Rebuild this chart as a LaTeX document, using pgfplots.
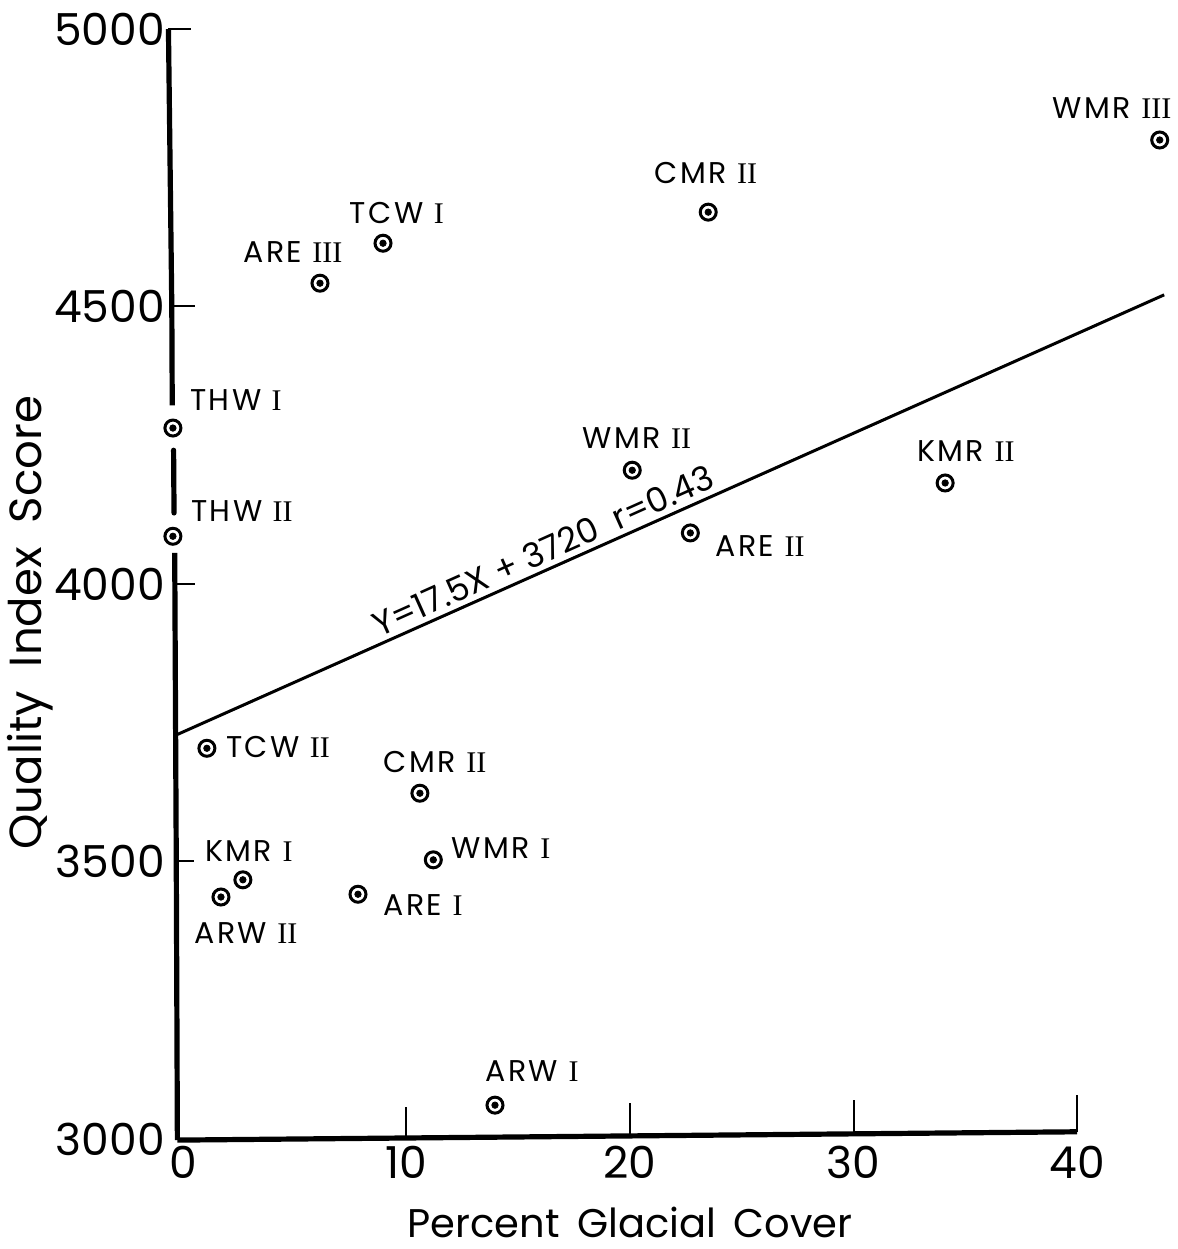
\documentclass[border=0pt]{standalone}
\usepackage{fontspec}
\setmainfont{Poppins}
\newfontfamily\lblfont[LetterSpace=8]{Poppins}
\newfontfamily\rn{Liberation Serif}
\usepackage{pgfplots}
\usepackage{pgfplotstable}
\pgfplotsset{compat=1.18}
\newcommand{\ri}{{\rn I}}
\newcommand{\rii}{{\rn II}}
\newcommand{\riii}{{\rn III}}
\pgfplotstableread{
x y
43.7 4800
23.5 4670
8.95 4614
6.13 4542
-0.45 4281
-0.45 4086
20.1 4205
22.7 4092
34.1 4182
1.07 3704
10.6 3623
11.2 3503
2.68 3467
1.7 3436
7.83 3441
13.96 3061
}\pts
\tikzset{lbl/.style={font=\lblfont\fontsize{15}{17}\selectfont, inner sep=0pt}}
\begin{document}
\begin{tikzpicture}
\useasboundingbox (0,0) rectangle (589pt,624.5pt);
\begin{axis}[
  at={(85.9pt,55pt)}, anchor=south west,
  scale only axis, width=502.9pt, height=555pt,
  xmin=-0.5, xmax=44.5, ymin=3000, ymax=5000,
  clip=false,
  axis line style={draw=none},
  xtick={0,10,20,30,40}, xticklabels={0,10,20,30,40},
  ytick={3000,3500,4000,4500,5000}, yticklabels={3000,3500,4000,4500,5000},
  xtick pos=bottom, ytick pos=left,
  major tick length=0pt, tick style={draw=none},
  ticklabel style={font=\fontsize{22}{24}\selectfont},
  /pgf/number format/assume math mode=true,
  xlabel={Percent\ \,Glacial\ \,Cover}, ylabel={Quality\ \ Index\ \ Score},
  xlabel style={font=\fontsize{20}{22}\selectfont, at={(axis description cs:0.4556,-0.0748)}, anchor=center},
  ylabel style={font=\fontsize{22.5}{25}\selectfont, at={(axis description cs:-0.141,0.465)}, anchor=center},
]
% y spine with gaps
\addplot[black, line width=2.6pt] coordinates {(-0.65,5000) (-0.5,4500) (-0.48,4322)};
\addplot[black, line width=2.6pt, line cap=round] coordinates {(-0.42,4241) (-0.4,4128)};
\addplot[black, line width=2.6pt] coordinates {(-0.37,4056) (-0.3,3500) (-0.25,2998)};
% x axis line
\addplot[black, line width=2.6pt] coordinates {(-0.25,2998) (40,3013)};
% y ticks
\addplot[black, line width=1pt] coordinates {(-0.65,5000) (0.35,5000)};
\addplot[black, line width=1pt] coordinates {(-0.5,4500) (0.55,4500)};
\addplot[black, line width=1pt] coordinates {(-0.38,4000) (0.55,4000)};
\addplot[black, line width=1pt] coordinates {(-0.3,3500) (0.5,3500)};
% x ticks
\addplot[black, line width=1pt] coordinates {(10,3004) (10,3058)};
\addplot[black, line width=1pt] coordinates {(20,3007) (20,3064)};
\addplot[black, line width=1pt] coordinates {(30,3010) (30,3070)};
\addplot[black, line width=1pt] coordinates {(40,3013) (40,3080)};
% regression line
\addplot[black, line width=1.5pt] coordinates {(-0.3,3728) (43.9,4521)};
% points
\addplot[only marks, mark=o, mark size=4pt, mark options={line width=1.5pt, draw=black}] table {\pts};
\addplot[only marks, mark=*, mark size=1.6pt, black] table {\pts};
% labels
\node[lbl] at (axis cs:41.57,4858) {WMR {\riii}};
\node[lbl] at (axis cs:23.40,4740) {CMR {\rii}};
\node[lbl] at (axis cs:9.57,4668) {TCW {\ri}};
\node[lbl] at (axis cs:4.92,4598) {ARE {\riii}};
\node[lbl] at (axis cs:2.37,4332) {THW {\ri}};
\node[lbl] at (axis cs:2.64,4132) {THW {\rii}};
\node[lbl] at (axis cs:20.31,4263) {WMR {\rii}};
\node[lbl] at (axis cs:25.82,4068) {ARE {\rii}};
\node[lbl] at (axis cs:35.03,4240) {KMR {\rii}};
\node[lbl] at (axis cs:4.25,3706) {TCW {\rii}};
\node[lbl] at (axis cs:11.28,3679) {CMR {\rii}};
\node[lbl] at (axis cs:2.95,3519) {KMR {\ri}};
\node[lbl] at (axis cs:2.82,3371) {ARW {\rii}};
\node[lbl] at (axis cs:10.74,3422) {ARE {\ri}};
\node[lbl] at (axis cs:14.23,3524) {WMR {\ri}};
\node[lbl] at (axis cs:15.62,3123) {ARW {\ri}};
\node[rotate=24.1, font=\fontsize{17}{19}\selectfont] at (axis cs:16.1,4060) {Y=17.5X + 3720\ \ r=0.43};
\end{axis}
\end{tikzpicture}
\end{document}
